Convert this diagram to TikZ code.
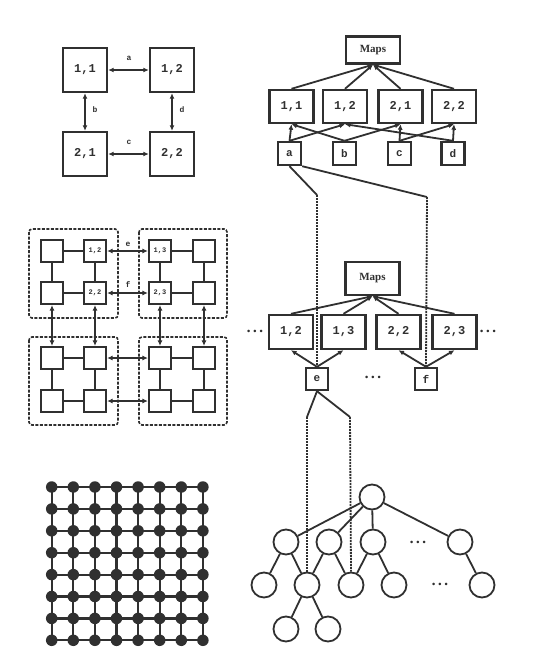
\documentclass[tikz,border=0pt]{standalone}
\usepackage{fontspec}
\setmonofont{Liberation Mono}
\newfontfamily\serifb{Liberation Serif}
\usetikzlibrary{arrows.meta}
\definecolor{inkc}{RGB}{48,48,48}
\begin{document}
\begin{tikzpicture}[x=1pt,y=-1pt,
  every node/.style={text=inkc},
  bigbox/.style={draw=inkc,line width=2.4pt,minimum width=44pt,minimum height=44pt,inner sep=0pt,font=\fontsize{12}{12}\selectfont\ttfamily\bfseries},
  rowbox/.style={draw=inkc,line width=2.4pt,minimum width=44pt,minimum height=33pt,inner sep=0pt,font=\fontsize{12}{12}\selectfont\ttfamily\bfseries},
  mapsbox/.style={draw=inkc,line width=2.4pt,minimum width=54pt,minimum height=27pt,inner sep=0pt,font=\fontsize{11}{11}\selectfont\serifb\bfseries},
  linkbox/.style={draw=inkc,line width=2.4pt,minimum width=23pt,minimum height=23pt,inner sep=0pt,font=\fontsize{11}{11}\selectfont\ttfamily\bfseries},
  gridbox/.style={draw=inkc,line width=2.2pt,minimum width=22pt,minimum height=22pt,inner sep=0pt,font=\fontsize{7}{7}\selectfont\ttfamily\bfseries},
  cluster/.style={draw=inkc,dash pattern=on 3pt off 1.5pt,rounded corners=3pt,line width=1.6pt},
  tnode/.style={circle,draw=inkc,line width=1.8pt,minimum size=25pt,inner sep=0pt},
  gdot/.style={circle,fill=inkc,minimum size=11.5pt,inner sep=0pt},
  conn/.style={draw=inkc,line width=1.8pt},
  biarrow/.style={conn,{Latex[length=5.5pt,width=5pt]}-{Latex[length=5.5pt,width=5pt]}},
  toarrow/.style={conn,-{Latex[length=5.5pt,width=5pt]}},
  dashv/.style={draw=inkc,line width=1.8pt,dash pattern=on 2pt off 1pt},
  lbl/.style={font=\fontsize{8}{8}\selectfont\ttfamily\bfseries},
  dots/.style={font=\fontsize{9}{9}\selectfont,inner sep=0pt}
]
\useasboundingbox[fill=white] (0,0) rectangle (534,672);

% ---------- top-left: 2x2 processor graph ----------
\node[bigbox] (A11) at (85,70) {1,1};
\node[bigbox] (A12) at (172,70) {1,2};
\node[bigbox] (A21) at (85,154) {2,1};
\node[bigbox] (A22) at (172,154) {2,2};
\draw[biarrow] (A11) -- (A12);
\draw[biarrow] (A11) -- (A21);
\draw[biarrow] (A12) -- (A22);
\draw[biarrow] (A21) -- (A22);
\node[lbl] (la) at (129,58) {a};
\node[lbl] (lb) at (95,110) {b};
\node[lbl] (ld) at (182,110) {d};
\node[lbl] (lc) at (129,142) {c};

% ---------- top-right: Maps hierarchy ----------
\node[mapsbox] (M1) at (373,50) {Maps};
\node[rowbox] (T11) at (291.5,106.5) {1,1};
\node[rowbox] (T12) at (345,106.5) {1,2};
\node[rowbox] (T21) at (400.5,106.5) {2,1};
\node[rowbox] (T22) at (454,106.5) {2,2};
\foreach \n in {T11,T12,T21,T22} \draw[toarrow] (\n.north) -- (M1.south);
\node[linkbox] (La) at (289.5,153.5) {a};
\node[linkbox] (Lb) at (344.5,153.5) {b};
\node[linkbox] (Lc) at (399.5,153.5) {c};
\node[linkbox] (Ld) at (453,153.5) {d};
\draw[toarrow] (La.north) -- (T11.south);
\draw[toarrow] (La.north) -- (T12.south);
\draw[toarrow] (Lb.north) -- (T11.south);
\draw[toarrow] (Lb.north) -- (T21.south);
\draw[toarrow] (Lc.north) -- (T21.south);
\draw[toarrow] (Lc.north) -- (T22.south);
\draw[toarrow] (Ld.north) -- (T12.south);
\draw[toarrow] (Ld.north) -- (T22.south);

% ---------- middle-right: Maps hierarchy ----------
\node[mapsbox,minimum height=33pt] (M2) at (372.5,278.5) {Maps};
\node[rowbox,minimum height=34pt] (B12) at (291,332) {1,2};
\node[rowbox,minimum height=34pt] (B13) at (343.5,332) {1,3};
\node[rowbox,minimum height=34pt] (B22) at (398.5,332) {2,2};
\node[rowbox,minimum height=34pt] (B23) at (454.5,332) {2,3};
\foreach \n in {B12,B13,B22,B23} \draw[toarrow] (\n.north) -- (M2.south);
\node[dots] (DL) at (255,332) {\textbullet\kern-1pt\textbullet\kern-1pt\textbullet};
\node[dots] (DR) at (488,332) {\textbullet\kern-1pt\textbullet\kern-1pt\textbullet};
\node[linkbox,minimum width=22pt,minimum height=22pt] (Le) at (317,379) {e};
\node[linkbox,minimum width=22pt,minimum height=22pt] (Lf) at (426,379) {f};
\node[dots] (DM) at (373,378) {\textbullet\kern-1pt\textbullet\kern-1pt\textbullet};
\draw[toarrow] (Le.north) -- (B12.south);
\draw[toarrow] (Le.north) -- (B13.south);
\draw[toarrow] (Lf.north) -- (B22.south);
\draw[toarrow] (Lf.north) -- (B23.south);

% links from a down to e and f
\coordinate (p1) at (317,195);
\coordinate (p2) at (427,197);
\draw[conn] (La.south) -- (p1);
\draw[dashv] (p1) -- (Le.north);
\draw[conn] (La.south east) -- (p2);
\draw[dashv] (p2) -- (Lf.north);

% ---------- bottom-right: tree ----------
\node[tnode] (R) at (372,497) {};
\node[tnode] (N1a) at (286,542) {};
\node[tnode] (N1b) at (329,542) {};
\node[tnode] (N1c) at (373,542) {};
\node[tnode] (N1d) at (460,542) {};
\node[dots] (DT1) at (418,543) {\textbullet\kern-1pt\textbullet\kern-1pt\textbullet};
\node[tnode] (N2a) at (264,585) {};
\node[tnode] (N2b) at (307,585) {};
\node[tnode] (N2c) at (351,585) {};
\node[tnode] (N2d) at (394,585) {};
\node[tnode] (N2e) at (482,585) {};
\node[dots] (DT2) at (440,585) {\textbullet\kern-1pt\textbullet\kern-1pt\textbullet};
\node[tnode] (N3a) at (286,629) {};
\node[tnode] (N3b) at (328,629) {};
\foreach \n in {N1a,N1b,N1c,N1d} \draw[conn] (R) -- (\n);
\draw[conn] (N1a) -- (N2a);
\draw[conn] (N1a) -- (N2b);
\draw[conn] (N1b) -- (N2b);
\draw[conn] (N1b) -- (N2c);
\draw[conn] (N1c) -- (N2c);
\draw[conn] (N1c) -- (N2d);
\draw[conn] (N1d) -- (N2e);
\draw[conn] (N2b) -- (N3a);
\draw[conn] (N2b) -- (N3b);

% links from e down to tree
\coordinate (q1) at (307,417);
\coordinate (q2) at (350,417);
\draw[conn] (Le.south) -- (q1);
\draw[dashv] (q1) -- (N2b.north);
\draw[conn] (Le.south) -- (q2);
\draw[dashv] (q2) -- (N2c.north);

% ---------- middle-left: clustered 4x4 grid ----------
\draw[cluster] (29,229) rectangle (118,318);
\draw[cluster] (139,229) rectangle (227,318);
\draw[cluster] (29,337) rectangle (118,425);
\draw[cluster] (139,337) rectangle (227,425);
\node[gridbox] (g1) at (52,251) {};
\node[gridbox] (g2) at (95,251) {1,2};
\node[gridbox] (g3) at (52,293) {};
\node[gridbox] (g4) at (95,293) {2,2};
\node[gridbox] (g5) at (160,251) {1,3};
\node[gridbox] (g6) at (204,251) {};
\node[gridbox] (g7) at (160,293) {2,3};
\node[gridbox] (g8) at (204,293) {};
\node[gridbox] (g9) at (52,358) {};
\node[gridbox] (g10) at (95,358) {};
\node[gridbox] (g11) at (52,401) {};
\node[gridbox] (g12) at (95,401) {};
\node[gridbox] (g13) at (160,358) {};
\node[gridbox] (g14) at (204,358) {};
\node[gridbox] (g15) at (160,401) {};
\node[gridbox] (g16) at (204,401) {};
\foreach \a/\b in {g1/g2,g1/g3,g2/g4,g3/g4,g5/g6,g5/g7,g6/g8,g7/g8,g9/g10,g9/g11,g10/g12,g11/g12,g13/g14,g13/g15,g14/g16,g15/g16}
  \draw[conn,line width=1.5pt] (\a) -- (\b);
\foreach \a/\b in {g2/g5,g4/g7,g3/g9,g4/g10,g7/g13,g8/g14,g10/g13,g12/g15}
  \draw[biarrow] (\a) -- (\b);
\node[lbl] (le) at (128,244) {e};
\node[lbl] (lf) at (128,285) {f};

% ---------- bottom-left: 8x8 mesh ----------
\foreach \i in {0,...,7}{
  \foreach \j in {0,...,7}{
    \coordinate (c-\i-\j) at ({51.7+21.6*\i},{487+21.9*\j});
  }
}
\foreach \k in {0,...,7}{
  \draw[conn,line width=2.2pt] (c-0-\k) -- (c-7-\k);
  \draw[conn,line width=2.2pt] (c-\k-0) -- (c-\k-7);
}
\foreach \i in {0,...,7}{
  \foreach \j in {0,...,7}{
    \node[gdot] (d-\i-\j) at (c-\i-\j) {};
  }
}
\end{tikzpicture}
\end{document}
